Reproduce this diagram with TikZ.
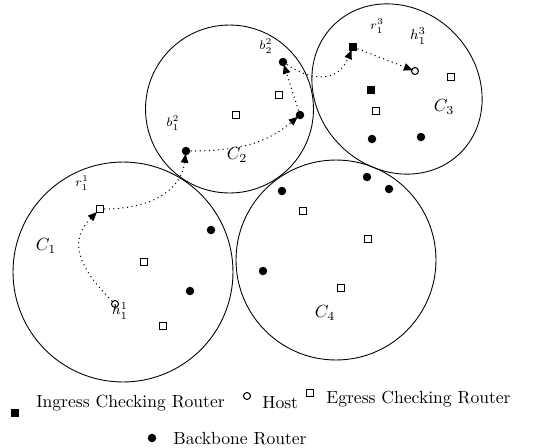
\documentclass[tikz,border=0pt]{standalone}
\usepackage{amsmath, amssymb}
\usepackage{tikz}
\usetikzlibrary{arrows.meta, positioning, calc, shapes.geometric}

\tikzset{
  ingress/.style={rectangle, fill=black, minimum size=1.7mm, inner sep=0pt},
  egress/.style={rectangle, draw, line width=0.6pt, fill=white, minimum size=1.5mm, inner sep=0pt},
  host/.style={circle, draw, line width=0.6pt, fill=white, minimum size=1.4mm, inner sep=0pt},
  backbone/.style={circle, fill=black, minimum size=1.7mm, inner sep=0pt},
  hop/.style={line width=0.6pt, dash pattern=on 0.6pt off 2pt, shorten >=-1pt, -{Triangle[length=1.8mm, width=1.5mm]}},
  tag/.style={font=\scriptsize, inner sep=0pt},
  cluster/.style={line width=0.5pt},
}

\begin{document}
\begin{tikzpicture}[x=0.02cm, y=-0.02cm]
            \useasboundingbox (0,0) rectangle (548,447);
            \draw[cluster] (123,272) circle [radius=2.2cm];
            \draw[cluster] (229.5,109) circle [radius=1.68cm];
            \draw[cluster, rotate around={-45:(397,89)}] (397,89) ellipse [x radius=1.8cm, y radius=1.6cm];
            \draw[cluster] (336,260) circle [radius=2cm];
            \node at (46,246) {$C_1$};
            \node at (237,155) {$C_2$};
            \node at (444,107) {$C_3$};
            \node at (325,313) {$C_4$};
            \node[egress] (R11) at (100,209) {};
            \node[host] (H11) at (115,304) {};
            \node[backbone] (D11) at (211,230) {};
            \node[egress] (E11) at (144,262) {};
            \node[backbone] (D12) at (190,291) {};
            \node[egress] (E12) at (163,326) {};
            \node[tag] at (82,183) {$r_1^1$};
            \node[font=\footnotesize, inner sep=0pt] at (120,311) {$h_1^1$};
            \node[backbone] (B12) at (186,151) {};
            \node[backbone] (B21) at (300,115) {};
            \node[backbone] (B22) at (283,62) {};
            \node[egress] (E21) at (279,95) {};
            \node[egress] (E22) at (236,115) {};
            \node[tag] at (173,123) {$b_1^2$};
            \node[tag] at (266,46) {$b_2^2$};
            \node[ingress] (R13) at (353,47) {};
            \node[host] (H13) at (415,71) {};
            \node[egress] (E31) at (451,77) {};
            \node[ingress] (I31) at (371,90) {};
            \node[egress] (E32) at (376,111) {};
            \node[backbone] (D31) at (372,139) {};
            \node[backbone] (D32) at (421,137) {};
            \node[tag] at (377,26) {$r_1^3$};
            \node[font=\footnotesize, inner sep=0pt] at (418,36) {$h_1^3$};
            \node[backbone] (D41) at (367,177) {};
            \node[backbone] (D42) at (389,189) {};
            \node[backbone] (D43) at (282,191) {};
            \node[backbone] (D44) at (263,271) {};
            \node[egress] (E41) at (303,211) {};
            \node[egress] (E42) at (368,239) {};
            \node[egress] (E43) at (341,288) {};
            \draw[hop] (H11) .. controls +(-40,-40) and +(-30,30) .. (R11);
            \draw[hop] (R11) .. controls +(50,0) and +(-5,40) .. (B12);
            \draw[hop] (B12) .. controls +(60,0) and +(-30,25) .. (B21);
            \draw[hop] (B21) -- (B22);
            \draw[hop] (B22) .. controls +(30,20) and +(-15,35) .. (R13);
            \draw[hop] (R13) -- (H13);
            \node[ingress] (LI) at (15,413) {};
            \node[anchor=base west, inner sep=0pt] (LIt) at (36,407) {Ingress Checking Router};
            \node[host] (LH) at (247,396) {};
            \node[anchor=base west, inner sep=0pt] (LHt) at (262,408) {Host};
            \node[egress] (LE) at (310,393) {};
            \node[anchor=base west, inner sep=0pt] (LEt) at (326,403) {Egress Checking Router};
            \node[backbone] (LB) at (152,438) {};
            \node[anchor=base west, inner sep=0pt] (LBt) at (173,444) {Backbone Router};
        \end{tikzpicture}
\end{document}
